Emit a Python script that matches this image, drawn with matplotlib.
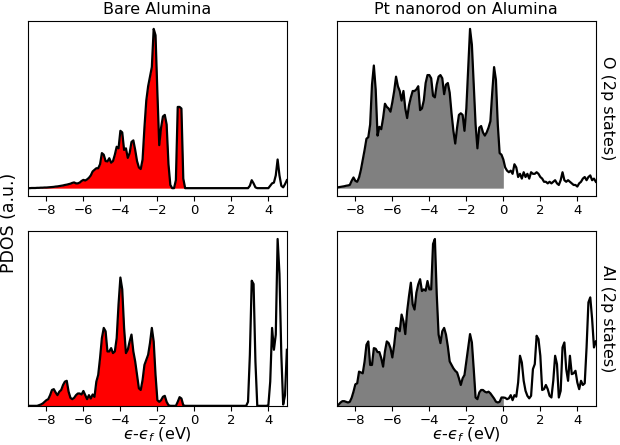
import numpy as np
import matplotlib
matplotlib.use('Agg')
import matplotlib.pyplot as plt

# energy grid (eV, relative to Fermi level), 0.1 eV steps
energy = np.round(np.arange(-9.0, 5.05, 0.1), 1)

# PDOS (arbitrary units, panel max ~100)
# bare alumina, O 2p
bare_O = [0.0, 0.0, 0.1, 0.1, 0.1, 0.2, 0.2, 0.3, 0.3, 0.4,
          0.4, 0.5, 0.6, 0.7, 0.8, 1.0, 1.1, 1.3, 1.5, 1.7,
          2.0, 2.2, 2.5, 2.8, 3.3, 3.6, 3.0, 3.0, 3.5, 4.5,
          5.2, 4.8, 5.5, 6.5, 8.0, 10.5, 11.5, 12.5, 12.5, 15.0,
          22, 21, 17, 16.8, 18.8, 16, 17, 21, 26, 25,
          36, 35, 24, 25, 19, 22, 29, 30, 24, 17,
          13, 12, 18, 38, 55, 64, 70, 76, 100, 96,
          60, 27, 38, 45, 46, 40, 15, 2, 0, 0,
          5, 51, 51, 50, 6, 0, 0, 0, 0, 0,
          0, 0, 0, 0, 0, 0, 0, 0, 0, 0,
          0, 0, 0, 0, 0, 0, 0, 0, 0, 0,
          0, 0, 0, 0, 0, 0, 0, 0, 0, 0,
          1.5, 5, 3, 0.5, 0, 0, 0, 0, 0, 0,
          0, 1.5, 3, 3.5, 8, 18, 8, 1.5, 0.5, 2.5,
          5]

# Pt nanorod on alumina, O 2p
pt_O = [0.4, 0.6, 0.8, 1.0, 1.2, 1.5, 1.7, 2.0, 4.6, 6.7,
        4.6, 4.0, 6.7, 11.5, 17.7, 24, 31, 32, 40, 65,
        77, 62, 33, 38.5, 37, 44, 53, 51, 50, 48,
        54, 61, 70, 64, 61, 55, 61, 50, 44, 52,
        57, 61, 61, 62, 64, 49, 50, 55, 66, 71,
        71, 69, 58, 57, 65, 70, 71, 69, 59, 65,
        66, 60, 47, 36, 28, 38, 46, 47, 46, 36,
        50, 75, 100, 90, 65, 40, 25, 38, 39, 35,
        33, 35, 38, 42, 60, 76, 68, 40, 22, 21,
        18, 13, 11, 10, 11, 9, 15, 13, 7, 9,
        6, 10, 7, 9, 6, 10, 9, 9, 10, 9,
        7, 6, 4, 4, 3, 4, 3, 4, 5, 3,
        2, 5, 10, 5, 4, 5, 4, 3, 2, 2,
        1, 3, 4, 6, 7, 5, 7, 8, 5, 6,
        4]

# bare alumina, Al 2p
bare_Al = [0, 0, 0, 0, 0, 0, 0.4, 0.8, 1.4, 2.4,
           3.4, 4, 6.4, 9.5, 10, 8, 6.4, 8.5, 9.5, 12.5,
           14.5, 15, 8.5, 4.8, 4, 4.8, 6.4, 7.4, 7.4, 6.8,
           8.9, 6.4, 4, 6.4, 4.4, 6.8, 5.4, 14.5, 18.5, 28.6,
           40.6, 46.7, 44.7, 32.6, 32.6, 34.6, 31.6, 32.6, 40.6, 60.8,
           76.9, 69.8, 46.7, 31.6, 33.6, 38.6, 42.7, 32.6, 26.6, 18.5,
           10.5, 9.5, 15.5, 24.5, 27.6, 30.6, 37.6, 46.7, 38.6, 18.5,
           3.4, 2.4, 3.4, 5.4, 6, 2.4, 0.4, 0, 0, 0,
           0, 2.4, 5.2, 4.4, 0.4, 0, 0, 0, 0, 0,
           0, 0, 0, 0, 0, 0, 0, 0, 0, 0,
           0, 0, 0, 0, 0, 0, 0, 0, 0, 0,
           0, 0, 0, 0, 0, 0, 0, 0, 0, 2.4,
           30.6, 75, 73, 26.6, 0, 0, 0, 0, 0, 0,
           0.4, 14.5, 46.7, 33.6, 42.7, 100, 79, 30.6, 0.8, 6.4,
           33.6]

# Pt nanorod on alumina, Al 2p
pt_Al = [0, 0.8, 2, 2.8, 2.8, 2.4, 2, 2.4, 4.8, 8.5,
         12.9, 13.5, 20.5, 20, 19.5, 26.6, 36.6, 38.6, 24.5, 24.5,
         34.6, 34.2, 32.2, 32.2, 28.6, 23.5, 32.6, 38.6, 37.6, 34.6,
         29, 36.6, 46.7, 46.3, 44.7, 54.7, 50.7, 43, 56.7, 65.8,
         73.8, 60.8, 57.7, 67.8, 72.8, 75.9, 68.8, 69.8, 69, 74.8,
         69.8, 69.8, 97, 100, 66.8, 42.7, 37.6, 44.7, 46.7, 42.7,
         35.6, 26.6, 24.5, 22.5, 21, 20, 16.5, 12.5, 16.5, 18.5,
         26.6, 35, 43, 38, 22, 5, 4, 8, 9.5, 9.5,
         8.5, 8, 8.5, 7.5, 6, 4.4, 2.5, 2, 2.4, 5,
         5, 4.8, 4, 4.5, 6.4, 3.4, 6.4, 5.5, 14, 30,
         26, 15, 9, 6, 4.5, 6, 22, 25, 42, 40,
         30, 9.5, 10, 12.5, 10, 6, 5, 15, 30, 25,
         5, 9, 35, 38, 22, 15, 30, 19, 19.5, 21,
         14, 10, 15, 12.5, 13.5, 35, 62, 65, 52, 35,
         38.6]

titles = ['Bare Alumina', 'Pt nanorod on Alumina']
row_labels = ['O (2p states)', 'Al (2p states)']
fill_colors = ['red', 'grey']
xticks = [-8, -6, -4, -2, 0, 2, 4]

fig, axes = plt.subplots(2, 2, figsize=(6.2, 4.45), dpi=100)
plt.subplots_adjust(left=0.045, right=0.961, bottom=0.088, top=0.953,
                    wspace=0.193, hspace=0.197)

data = [[bare_O, pt_O], [bare_Al, pt_Al]]
occ = energy <= 0

for r in range(2):
    for c in range(2):
        ax = axes[r, c]
        y = np.array(data[r][c])
        ax.fill_between(energy, 0, y, where=occ, color=fill_colors[c], lw=0)
        ax.plot(energy, y, '-', color='black', lw=1.6)
        ax.set_xlim(-9, 5)
        ax.set_xticks(xticks)
        ax.set_yticks([])
        ax.tick_params(labelsize=9.5, pad=2.5)
        if r == 1:
            ax.set_ylim(bottom=0)
            ax.set_xlabel('$\u03f5$-$\u03f5_f$ (eV)', fontsize=11.5, labelpad=-1)
        else:
            ax.set_title(titles[c], fontsize=11.5, pad=5)
        if c == 1:
            ax.yaxis.set_label_position('right')
            ax.set_ylabel(row_labels[r], rotation=270, fontsize=11.5, labelpad=14)

fig.text(0.014, 0.5, 'PDOS (a.u.)', rotation=90, va='center', ha='center', fontsize=12.5)

plt.savefig('out.png', dpi=100)
plt.close()
